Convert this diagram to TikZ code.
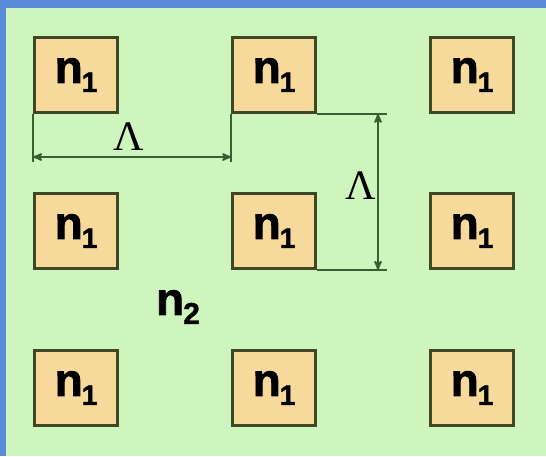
\documentclass[tikz,border=0pt]{standalone}
\usepackage{fontspec}
\setmainfont{Liberation Sans}[BoldFeatures={FakeBold=1.6}]
\newfontfamily\lamfont{Liberation Serif}
\usetikzlibrary{arrows}

\definecolor{bgblue}{HTML}{5A8BD8}
\definecolor{panelgreen}{HTML}{CEF5BE}
\definecolor{cellfill}{HTML}{F6D99B}
\definecolor{celledge}{HTML}{3E4824}
\definecolor{dimline}{HTML}{36602F}

\newcommand{\idx}[3]{#1\kern-1pt\raisebox{-9pt}{\fontsize{#3}{#3}\selectfont #2}}

\tikzset{
  cell/.style={draw=celledge, line width=2.8pt, fill=cellfill, minimum width=83pt,
    minimum height=75pt, inner sep=0pt, font=\fontsize{46}{46}\selectfont\bfseries},
  medium/.style={font=\fontsize{46}{46}\selectfont\bfseries},
  dimarrow/.style={dimline, line width=2pt, <->, >=stealth'},
  extline/.style={dimline, line width=2pt},
  lam/.style={font=\fontsize{42}{42}\selectfont\lamfont}
}

\begin{document}
\begin{tikzpicture}[x=1pt, y=-1pt]
% background and panel
\fill[bgblue] (0,0) rectangle (546,456);
\fill[panelgreen] (6,8) rectangle (546,456);
\useasboundingbox (0,0) rectangle (546,456);

% lattice of n1 cells
\foreach \r/\y in {1/75, 2/231, 3/388} {
  \foreach \c/\x in {1/76, 2/274, 3/472} {
    \node[cell] (c\r\c) at (\x,\y) {\idx{n}{1}{28}};
  }
}

% surrounding medium
\node[medium] (clad) at (178,307) {\idx{n}{2}{30}};

% horizontal period
\coordinate (h1) at (c11.south west |- 0,157);
\coordinate (h2) at (c12.south west |- 0,157);
\draw[extline] (c11.south west) -- ([yshift=-5pt]h1);
\draw[extline] (c12.south west) -- ([yshift=-5pt]h2);
\draw[dimarrow] (h1) -- (h2);
\node[lam] (lamh) at (129,137) {Λ};

% vertical period
\coordinate (v1) at (387,0 |- c12.south east);
\coordinate (v2) at (387,0 |- c22.south east);
\draw[extline] (c12.south east) -- (v1);
\draw[extline] (c22.south east) -- (v2);
\draw[dimarrow] (378,0 |- v1) -- (378,0 |- v2);
\node[lam] (lamv) at (361,186) {Λ};
\end{tikzpicture}
\end{document}
